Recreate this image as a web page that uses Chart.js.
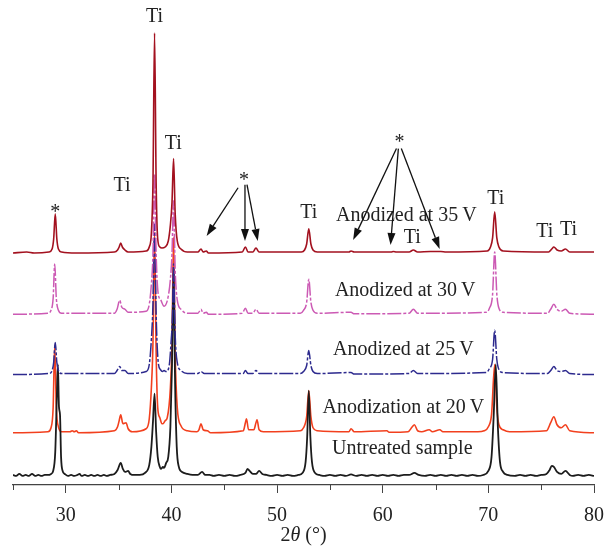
<!DOCTYPE html>
<html>
<head>
<meta charset="utf-8">
<script src="https://cdn.jsdelivr.net/npm/chart.js@4"></script>
<style>
  html, body { margin: 0; padding: 0; background: #fff; }
  #wrap { width: 615px; height: 549px; }
</style>
</head>
<body>
<div id="wrap"><canvas id="xrd" width="615" height="549"></canvas></div>
<script>
// diffraction angle 2theta (deg) vs intensity above each trace's own baseline (a.u.)
const untreated = [[25,2],[25.3,1],[25.6,3],[25.9,1],[26.2,2],[26.5,1],[26.8,3],[27.1,1],[27.4,2],[27.7,1],[28.0,2],[28.3,2],[28.6,3],[28.8,6],[29.0,25],[29.15,80],[29.25,112],[29.35,70],[29.45,62],[29.55,20],[29.7,6],[29.9,3],[30.2,1],[30.5,2],[30.8,1],[31.1,2],[31.3,3],[31.5,1],[31.8,2],[32.1,1],[32.4,2],[32.7,1],[33.0,2],[33.3,1],[33.6,2],[33.9,1],[34.2,2],[34.6,3],[34.9,7],[35.2,14],[35.4,8],[35.6,5],[35.9,6],[36.1,3],[36.5,2],[37.0,2],[37.5,4],[37.9,12],[38.1,30],[38.25,55],[38.4,83],[38.55,45],[38.7,20],[38.9,10],[39.0,8],[39.2,10],[39.3,9],[39.5,14],[39.7,20],[39.9,50],[40.05,110],[40.2,203],[40.35,90],[40.5,30],[40.7,10],[41.0,5],[41.5,3],[42.0,2],[42.5,2],[42.9,5],[43.2,2],[43.6,2],[44.0,1],[44.5,2],[45,1],[45.5,2],[46,1],[46.5,2],[47.0,4],[47.2,8],[47.4,6],[47.7,3],[48.0,3],[48.3,6],[48.6,3],[49,2],[49.5,1],[50,2],[50.5,1],[51,2],[51.5,1],[52,2],[52.4,4],[52.7,15],[52.85,40],[53.0,86],[53.15,40],[53.3,15],[53.6,4],[54.0,2],[54.5,1],[55,2],[55.5,1],[56,2],[56.5,1],[57,2.5],[57.5,1],[58,2],[58.5,1],[59,2],[59.5,1],[60,2],[60.5,1],[61,2],[61.5,1],[62,2],[62.5,2],[63.0,4],[63.4,2],[64,1],[64.5,2],[65,1],[65.5,2],[66,1],[66.5,2],[67,1],[67.5,2],[68,1],[68.5,2],[69,1],[69.5,2],[70.0,6],[70.3,20],[70.5,60],[70.7,112],[70.9,50],[71.1,15],[71.4,5],[71.8,2],[72.5,1],[73,2],[73.5,1],[74,2],[74.5,1],[75,2],[75.5,3],[75.8,7],[76.0,11],[76.2,10],[76.5,5],[76.9,3],[77.3,6],[77.7,2],[78,1],[78.5,2],[79,1],[79.5,2],[80,1]];

const anod20 = [[25,0],[28.3,1],[28.6,5],[28.8,25],[28.95,87],[29.1,25],[29.3,6],[29.6,1],[30.4,1],[30.6,2],[30.8,1],[31.0,2],[31.2,0],[34.6,2],[34.9,6],[35.05,12],[35.2,18],[35.4,9],[35.7,10],[35.9,4],[36.3,1],[37.6,4],[37.9,14],[38.1,45],[38.25,90],[38.4,200],[38.55,80],[38.7,25],[38.9,15],[39.1,9],[39.2,9],[39.4,12],[39.6,15],[39.9,45],[40.05,90],[40.2,195],[40.35,80],[40.55,25],[40.9,7],[41.5,2],[42.4,1],[42.6,3],[42.8,9],[43.0,3],[43.4,2],[43.7,0],[46.8,2],[47.0,10],[47.1,14],[47.3,3],[47.8,3],[48.0,10],[48.1,13],[48.3,3],[48.7,1],[52.2,2],[52.5,5],[52.8,16],[53.0,42],[53.2,16],[53.4,5],[53.8,2],[56.8,1],[57.0,4],[57.3,1],[60.4,2],[60.6,0.5],[62.4,1],[62.8,6],[63.0,8],[63.3,2],[63.7,1],[64.4,3],[64.7,1],[65.4,3],[65.7,1],[69.0,1],[69.6,2],[70.0,6],[70.3,18],[70.6,68],[70.8,25],[71.0,8],[71.4,3],[72,1],[75.5,2],[75.9,10],[76.2,16],[76.5,8],[76.9,5],[77.3,8],[77.7,2],[80,0]];

const anod25 = [[25,0],[28.4,1],[28.7,4],[28.85,12],[29.0,32],[29.15,12],[29.3,4],[29.6,1],[34.6,1],[34.85,4],[35.1,8],[35.3,4],[35.6,4],[35.9,1],[37.6,3],[37.9,10],[38.1,35],[38.25,70],[38.4,150],[38.55,60],[38.75,12],[38.95,5],[39.15,3],[39.3,4],[39.5,3],[39.8,10],[39.95,30],[40.1,60],[40.2,110],[40.35,40],[40.55,12],[40.9,4],[41.5,1],[42.5,1],[42.8,3],[43.1,1],[46.8,1],[47.0,4],[47.25,1],[47.7,1],[48.0,4],[48.3,1],[52.2,1],[52.5,3],[52.8,9],[53.0,24],[53.2,9],[53.4,3],[53.8,1],[57,2],[57.3,0.5],[62.5,1],[62.9,4],[63.3,1],[69.8,2],[70.1,6],[70.4,15],[70.6,44],[70.8,15],[71.0,5],[71.4,2],[75.6,1],[75.9,4],[76.2,8],[76.5,4],[76.9,3],[77.3,4],[77.7,1],[80,0]];

const anod30 = [[25,0],[28.3,1],[28.6,4],[28.8,16],[28.95,50],[29.1,16],[29.3,4],[29.6,1],[34.6,1],[34.85,5],[35.1,14],[35.3,7],[35.6,5],[35.9,2],[37.6,3],[37.9,10],[38.1,30],[38.25,60],[38.4,140],[38.55,60],[38.75,20],[38.95,15],[39.3,8],[39.7,18],[39.9,35],[40.05,60],[40.2,113],[40.35,45],[40.55,14],[40.9,5],[41.5,1],[42.5,1],[42.8,5],[43.0,1],[43.3,2],[43.5,0],[46.7,1],[47.0,6],[47.25,1],[47.7,1],[48.0,5],[48.3,1],[52.2,1],[52.5,4],[52.8,12],[53.0,35],[53.2,12],[53.4,4],[53.8,1],[57,2],[57.3,0.5],[62.5,1],[62.9,5],[63.3,1],[69.8,2],[70.1,6],[70.4,20],[70.6,62],[70.8,20],[71.0,6],[71.4,2],[75.6,1],[75.9,5],[76.2,10],[76.5,5],[76.9,3],[77.3,5],[77.7,1],[80,0]];

const anod35 = [[25,0],[26.3,1],[27,0],[28.4,1],[28.7,4],[28.85,14],[29,39],[29.15,14],[29.3,4],[29.6,1],[31,0],[34.6,1],[34.9,3],[35.05,6],[35.2,10],[35.35,6],[35.6,3],[35.9,1],[37.6,2],[37.9,6],[38.1,20],[38.25,70],[38.4,219],[38.55,70],[38.7,14],[38.9,6],[39.1,5],[39.4,6],[39.7,12],[39.9,28],[40.05,50],[40.2,94],[40.35,40],[40.55,12],[40.9,4],[41.5,1],[42.5,1],[42.8,4],[43.0,1],[43.3,2],[43.5,0],[46.7,1],[47.0,6],[47.25,1],[47.7,1],[48.0,5],[48.3,1],[52.3,1],[52.6,3],[52.8,9],[53.0,24],[53.2,9],[53.4,3],[53.8,1],[56.8,1],[57,2],[57.3,1],[60.8,1],[61,1.5],[61.3,1],[62.5,1],[62.9,3],[63.3,1],[64.5,1.5],[65.5,1.5],[66,1],[69.9,2],[70.2,6],[70.4,15],[70.6,41],[70.8,15],[71.0,6],[71.4,2],[75.7,1],[76.0,4],[76.2,6],[76.5,3],[76.9,2],[77.3,4],[77.7,1],[80,1]];

// vertical stacking offset of each trace
const seriesNames = ['Anodized at 35\u2009V', 'Anodized at 30\u2009V', 'Anodized at 25\u2009V', 'Untreated sample', 'Anodization at 20\u2009V'];
const seriesData = [anod35, anod30, anod25, untreated, anod20];
const offsets = [231, 170, 110, 8, 52];
const colors = ['#a3111f', '#cc5ab4', '#2d2a8e', '#1c1c1c', '#f2401e'];
const dashes = [[], [14, 2, 3, 2], [14, 2, 3, 2], [], []];
const widths = [1.6, 1.5, 1.5, 1.8, 1.6];

const xTicks = [30, 40, 50, 60, 70, 80];
const xMinorTicks = [25, 35, 45, 55, 65, 75];

// labels in data coords [text, 2theta, y]
const labels = [
  ['*', 29.0, 271], ['Ti', 35.33, 298], ['Ti', 38.4, 466], ['Ti', 40.17, 340],
  ['*', 46.87, 303], ['Ti', 53.01, 271], ['*', 61.58, 341], ['Ti', 62.79, 246],
  ['Ti', 70.7, 285], ['Ti', 75.35, 252], ['Ti', 77.58, 254],
  ['Anodized at 35\u2009V', 62.23, 268], ['Anodized at 30\u2009V', 62.13, 193],
  ['Anodized at 25\u2009V', 61.95, 135], ['Anodization at 20\u2009V', 61.95, 77],
  ['Untreated sample', 61.85, 36]
];
const arrows = [
  [46.31, 296, 43.33, 248], [46.96, 299, 46.96, 243], [47.15, 299, 48.17, 243],
  [61.30, 335, 57.20, 244], [61.48, 335, 60.74, 239], [61.76, 335, 65.39, 235]
];

const SERIF = '"Liberation Serif", "DejaVu Serif", serif';

const annotate = {
  id: 'annotate',
  afterDatasetsDraw(chart) {
    const { ctx, scales: { x, y }, chartArea } = chart;
    ctx.save();
    // minor ticks
    ctx.strokeStyle = '#444';
    ctx.lineWidth = 1;
    xMinorTicks.forEach((v) => {
      const px = Math.round(x.getPixelForValue(v)) + 0.5;
      ctx.beginPath();
      ctx.moveTo(px, chartArea.bottom);
      ctx.lineTo(px, chartArea.bottom + 5);
      ctx.stroke();
    });
    // text labels
    ctx.fillStyle = '#222';
    ctx.font = '20px ' + SERIF;
    ctx.textAlign = 'center';
    ctx.textBaseline = 'middle';
    labels.forEach(([t, a, b]) => {
      ctx.fillText(t, x.getPixelForValue(a), y.getPixelForValue(b));
    });
    // arrows
    ctx.strokeStyle = '#111';
    ctx.fillStyle = '#111';
    ctx.lineWidth = 1.3;
    arrows.forEach(([a0, b0, a1, b1]) => {
      const x0 = x.getPixelForValue(a0), y0 = y.getPixelForValue(b0);
      const x1 = x.getPixelForValue(a1), y1 = y.getPixelForValue(b1);
      const ang = Math.atan2(y1 - y0, x1 - x0);
      const hl = 12, hw = 4;
      const bx = x1 - hl * Math.cos(ang), by = y1 - hl * Math.sin(ang);
      ctx.beginPath();
      ctx.moveTo(x0, y0);
      ctx.lineTo(bx, by);
      ctx.stroke();
      ctx.beginPath();
      ctx.moveTo(x1, y1);
      ctx.lineTo(bx + hw * Math.sin(ang), by - hw * Math.cos(ang));
      ctx.lineTo(bx - hw * Math.sin(ang), by + hw * Math.cos(ang));
      ctx.closePath();
      ctx.fill();
    });
    // axis title 2θ (°)
    ctx.fillStyle = '#222';
    ctx.textAlign = 'left';
    ctx.textBaseline = 'middle';
    const parts = [['2', '20px '], ['\u03b8', 'italic 20px '], [' (\u00b0)', '20px ']];
    let total = 0;
    parts.forEach((p) => { ctx.font = p[1] + SERIF; total += ctx.measureText(p[0]).width; });
    let cx = (chartArea.left + chartArea.right) / 2 - total / 2;
    parts.forEach((p) => {
      ctx.font = p[1] + SERIF;
      ctx.fillText(p[0], cx, 536);
      cx += ctx.measureText(p[0]).width;
    });
    ctx.restore();
  }
};

new Chart(document.getElementById('xrd'), {
  type: 'line',
  data: {
    datasets: seriesData.map((s, i) => ({
      label: seriesNames[i],
      data: s.map((p) => ({ x: p[0], y: p[1] + offsets[i] })),
      borderColor: colors[i],
      borderWidth: widths[i],
      borderDash: dashes[i],
      pointRadius: 0,
      fill: false,
      cubicInterpolationMode: 'monotone',
    })),
  },
  options: {
    responsive: false,
    animation: false,
    events: [],
    layout: { padding: { top: 10, left: 13, right: 11, bottom: 10 } },
    plugins: { legend: { display: false }, tooltip: { enabled: false } },
    scales: {
      x: {
        type: 'linear',
        min: 25,
        max: 80,
        afterBuildTicks: (scale) => { scale.ticks = xTicks.map((v) => ({ value: v })); },
        border: { display: true, color: '#444', width: 1.2 },
        grid: { display: true, drawOnChartArea: false, drawTicks: true, tickLength: 8, color: '#444', lineWidth: 1 },
        ticks: { padding: 11, color: '#222', font: { family: SERIF, size: 20 }, maxRotation: 0 },
      },
      y: { display: false, min: 0, max: 473 },
    },
  },
  plugins: [annotate],
});
</script>
</body>
</html>
